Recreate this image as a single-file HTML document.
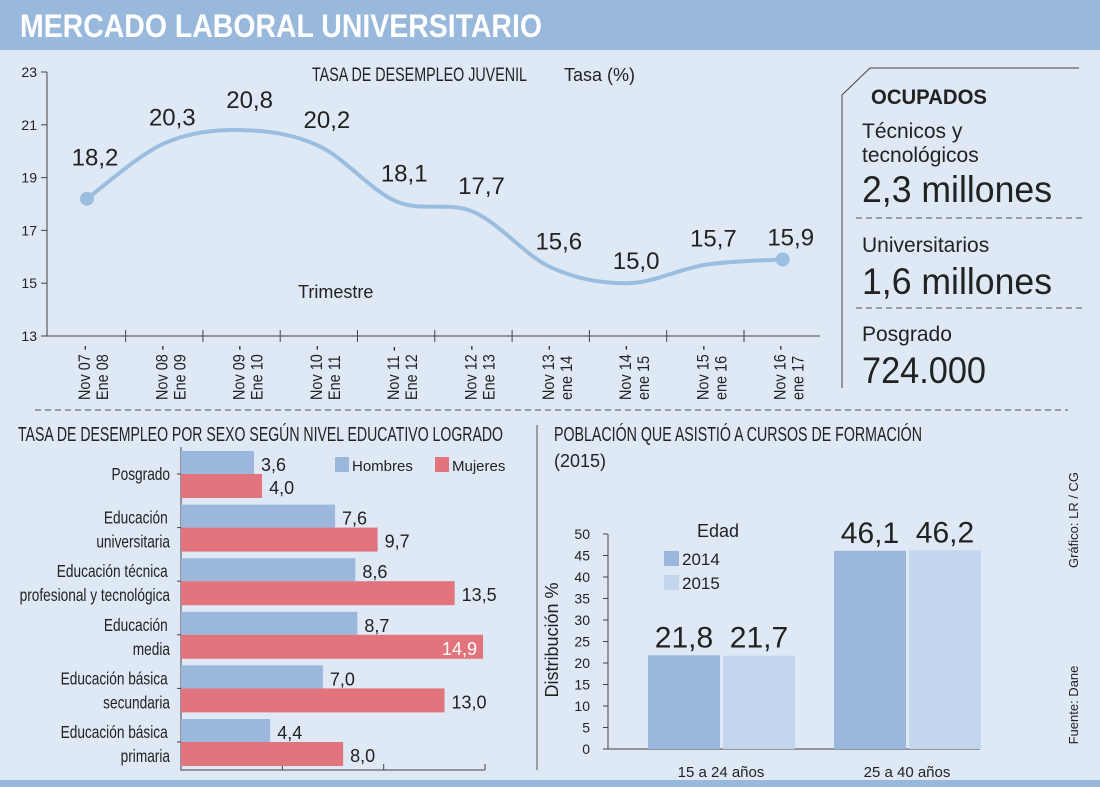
<!DOCTYPE html>
<html><head><meta charset="utf-8"><style>
body{margin:0;width:1100px;height:787px;background:#dfe9f5;overflow:hidden;font-family:"Liberation Sans",sans-serif}
svg{position:absolute;left:0;top:0}
text{fill:#222}
</style></head><body>
<svg width="1100" height="787">
<rect x="0" y="0" width="1100" height="50" fill="#98b9dc"/>
<text x="20" y="37" font-size="32" font-weight="bold" textLength="522" lengthAdjust="spacingAndGlyphs" style="fill:#fff">MERCADO LABORAL UNIVERSITARIO</text>
<rect x="0" y="780" width="1100" height="7" fill="#98b9dc"/>
<g id="topchart"></g>
<text x="312" y="81" font-size="19" textLength="215" lengthAdjust="spacingAndGlyphs">TASA DE DESEMPLEO JUVENIL</text>
<text x="564" y="81" font-size="18">Tasa (%)</text>
<text x="298" y="298" font-size="18">Trimestre</text>
<path d="M842,388 V95 L870,68 H1079" fill="none" stroke="#444" stroke-width="1"/>
<text x="871" y="104" font-size="21" font-weight="bold" textLength="116" lengthAdjust="spacingAndGlyphs">OCUPADOS</text>
<text x="862" y="138" font-size="21">Técnicos y</text>
<text x="862" y="162" font-size="21">tecnológicos</text>
<text x="862" y="202" font-size="37" textLength="190" lengthAdjust="spacingAndGlyphs">2,3 millones</text>
<line x1="856" y1="218" x2="1082" y2="218" stroke="#555" stroke-dasharray="6,4"/>
<text x="862" y="252" font-size="21">Universitarios</text>
<text x="862" y="294" font-size="37" textLength="190" lengthAdjust="spacingAndGlyphs">1,6 millones</text>
<line x1="856" y1="308" x2="1082" y2="308" stroke="#555" stroke-dasharray="6,4"/>
<text x="862" y="341" font-size="21">Posgrado</text>
<text x="862" y="383" font-size="37" textLength="124" lengthAdjust="spacingAndGlyphs">724.000</text>
<line x1="35" y1="410" x2="1068" y2="410" stroke="#555" stroke-dasharray="6,4"/>
<line x1="537" y1="425" x2="537" y2="770" stroke="#555"/>
<text x="18" y="441" font-size="20" textLength="485" lengthAdjust="spacingAndGlyphs">TASA DE DESEMPLEO POR SEXO SEGÚN NIVEL EDUCATIVO LOGRADO</text>
<g id="bl"></g>
<rect x="335" y="457" width="14" height="15" fill="#9bb8dc"/>
<text x="352" y="471" font-size="15">Hombres</text>
<rect x="435" y="457" width="14" height="15" fill="#e2747d"/>
<text x="452" y="471" font-size="15">Mujeres</text>
<text x="554" y="441" font-size="20" textLength="368" lengthAdjust="spacingAndGlyphs">POBLACIÓN QUE ASISTIÓ A CURSOS DE FORMACIÓN</text>
<text x="554" y="467" font-size="18">(2015)</text>
<g id="br"></g>
<text x="697" y="537" font-size="18">Edad</text>
<rect x="664" y="551" width="15" height="15" fill="#9bb8dc"/>
<text x="682" y="565" font-size="17">2014</text>
<rect x="664" y="575" width="15" height="15" fill="#c2d6ee"/>
<text x="682" y="589" font-size="17">2015</text>
<text transform="translate(558,640) rotate(-90)" text-anchor="middle" font-size="18">Distribución %</text>
<text transform="translate(1078,520) rotate(-90)" text-anchor="middle" font-size="13">Gráfico: LR / CG</text>
<text transform="translate(1078,705) rotate(-90)" text-anchor="middle" font-size="13">Fuente: Dane</text>
</svg>
<script>
const NS="http://www.w3.org/2000/svg";
function mk(p,t,a,txt){const e=document.createElementNS(NS,t);for(const k in a)e.setAttribute(k,a[k]);if(txt!=null)e.textContent=txt;p.appendChild(e);return e;}
// ---- top line chart
const periods1=["Nov 07 -","Nov 08 -","Nov 09 -","Nov 10 -","Nov 11 -","Nov 12 -","Nov 13 -","Nov 14 -","Nov 15 -","Nov 16 -"];
const periods2=["Ene 08","Ene 09","Ene 10","Ene 11","Ene 12","Ene 13","ene 14","ene 15","ene 16","ene 17"];
const rates=[18.2,20.3,20.8,20.2,18.1,17.7,15.6,15.0,15.7,15.9];
const rateLabels=["18,2","20,3","20,8","20,2","18,1","17,7","15,6","15,0","15,7","15,9"];
const yTicks=[13,15,17,19,21,23];
const tc=document.getElementById('topchart');
const X=i=>87+i*77.3, Y=v=>336-(v-13)*26.4;
let ax=mk(tc,'path',{d:'M47,72 V336 H820',fill:'none',stroke:'#444'});


yTicks.forEach(v=>{let l=mk(tc,'line',{x1:41,x2:47,y1:Y(v),y2:Y(v),stroke:'#444'});


let t=mk(tc,'text',{x:37,y:Y(v)+5,'text-anchor':'end','font-size':14},v);

});
for(let i=0;i<rates.length;i++){
 const tx=X(i)+38.6;
 if(i<rates.length-1){let l=mk(tc,'line',{x1:tx,x2:tx,y1:330,y2:342,stroke:'#444'});
 
 }
 let t=mk(tc,'text',{transform:`translate(${X(i)+3},400) rotate(-90) scale(0.85,1)`,'font-size':17});
 
 
 mk(t,'tspan',{x:0,dy:0},periods1[i]);mk(t,'tspan',{x:0,dy:18},periods2[i]);
}
let d=`M${X(0)},${Y(rates[0])}`;
for(let i=0;i<rates.length-1;i++){
 const p0=i>0?i-1:i,p3=i+2<rates.length?i+2:i+1;
 const c1x=X(i)+(X(i+1)-X(p0))/6,c1y=Y(rates[i])+(Y(rates[i+1])-Y(rates[p0]))/6;
 const c2x=X(i+1)-(X(p3)-X(i))/6,c2y=Y(rates[i+1])-(Y(rates[p3])-Y(rates[i]))/6;
 d+=` C${c1x},${c1y} ${c2x},${c2y} ${X(i+1)},${Y(rates[i+1])}`;
}
let ln=mk(tc,'path',{d,fill:'none',stroke:'#9bbde0','stroke-width':4});


[0,rates.length-1].forEach(i=>{let c=mk(tc,'circle',{cx:X(i),cy:Y(rates[i]),r:7,fill:'#9bbde0'});

});
const offs=[33,18,22,18,20,18,18,14,18,14];
rates.forEach((v,i)=>{let t=mk(tc,'text',{x:X(i)+8,y:Y(v)-offs[i],'text-anchor':'middle','font-size':24},rateLabels[i]);

});
// ---- bottom-left bars
const levels=[["Posgrado"],["Educación","universitaria"],["Educación técnica","profesional y tecnológica"],["Educación","media"],["Educación básica","secundaria"],["Educación básica","primaria"]];
const men=[3.6,7.6,8.6,8.7,7.0,4.4];
const women=[4.0,9.7,13.5,14.9,13.0,8.0];
const menLbl=["3,6","7,6","8,6","8,7","7,0","4,4"];
const womenLbl=["4,0","9,7","13,5","14,9","13,0","8,0"];
const xTicks=[0,5,10,15];
const bl=document.getElementById('bl');
const BX=v=>181+v*20.27;
let a2=mk(bl,'path',{d:'M181,447 V770 H485',fill:'none',stroke:'#444'});


xTicks.forEach(v=>{let l=mk(bl,'line',{x1:BX(v),x2:BX(v),y1:764,y2:770,stroke:'#444'});

});
levels.forEach((lv,i)=>{
 const t0=451+i*53.6;
 let r1=mk(bl,'rect',{x:181,y:t0,width:BX(men[i])-181,height:23,fill:'#9bb8dc'});
 
 
 let r2=mk(bl,'rect',{x:181,y:t0+23,width:BX(women[i])-181,height:24,fill:'#e2747d'});
 
 
 let t1=mk(bl,'text',{x:BX(men[i])+7,y:t0+20,'font-size':18},menLbl[i]);
 
 
 const inside=women[i]>14;
 let t2=mk(bl,'text',{x:inside?BX(women[i])-6:BX(women[i])+7,y:t0+43,'font-size':18,'text-anchor':inside?'end':'start',style:inside?'fill:#fff':''},womenLbl[i]);
 
 
 let tk=mk(bl,'line',{x1:177,x2:181,y1:t0+23,y2:t0+23,stroke:'#444'});
 
 
 const g=mk(bl,'text',{'font-size':18,'text-anchor':'end',transform:'translate(170,0) scale(0.76,1) translate(-170,0)'});
 
 
 if(lv.length==1)mk(g,'tspan',{x:170,y:t0+29},lv[0]);
 else{mk(g,'tspan',{x:167,y:t0+19},lv[0]);mk(g,'tspan',{x:170,y:t0+43},lv[1]);}
});
// ---- bottom-right bars
const ages=["15 a 24 años","25 a 40 años"];
const y2014=[21.8,46.1];
const y2015=[21.7,46.2];
const lbl2014=["21,8","46,1"];
const lbl2015=["21,7","46,2"];
const dTicks=[0,5,10,15,20,25,30,35,40,45,50];
const br=document.getElementById('br');
const DY=v=>749-v*4.3;
let a3=mk(br,'path',{d:`M608,${DY(50)} V749 H980`,fill:'none',stroke:'#444'});


dTicks.forEach(v=>{let l=mk(br,'line',{x1:603,x2:608,y1:DY(v),y2:DY(v),stroke:'#444'});


let t=mk(br,'text',{x:590,y:DY(v)+5,'text-anchor':'end','font-size':14},v);

});
ages.forEach((a,i)=>{
 const x0=648+i*186;
 let r1=mk(br,'rect',{x:x0,y:DY(y2014[i]),width:72,height:749-DY(y2014[i]),fill:'#9bb8dc'});
 
 
 let r2=mk(br,'rect',{x:x0+75,y:DY(y2015[i]),width:72,height:749-DY(y2015[i]),fill:'#c2d6ee'});
 
 
 let t1=mk(br,'text',{x:x0+36,y:DY(y2014[i])-8,'text-anchor':'middle','font-size':30},lbl2014[i]);
 
 
 let t2=mk(br,'text',{x:x0+111,y:DY(y2015[i])-8,'text-anchor':'middle','font-size':30},lbl2015[i]);
 
 
 let c=mk(br,'text',{x:x0+73,y:777,'text-anchor':'middle','font-size':15},a);
 
 
});
</script>
</body></html>
